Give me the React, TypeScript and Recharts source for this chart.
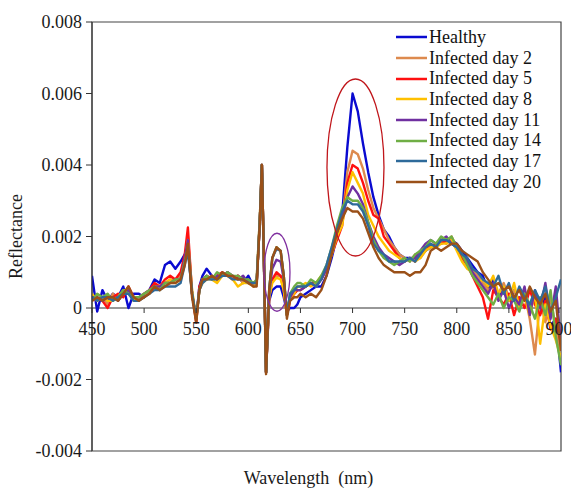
import React from 'react';
import {
    LineChart, Line, XAxis, YAxis, ReferenceLine, ReferenceArea,
    ReferenceDot, Label
} from 'recharts';

// wavelengths (nm), denser around the sharp features
const wavelengths = [
    450, 455, 460, 465, 470, 475, 480, 485, 490, 495, 500, 505, 510, 515, 520, 525, 530, 535,
    539, 542, 546, 550, 553, 556,
    560, 565, 570, 575, 580, 585, 590, 595, 600, 605,
    608, 611, 613, 615, 617, 620, 623, 627, 631, 634, 637, 640, 644, 647,
    650, 655, 660, 665, 670, 675, 680, 685, 690, 695, 700, 705, 710, 715, 720, 725, 730, 735, 740, 745,
    750, 755, 760, 765, 770, 775, 780, 785, 790, 795, 800, 805, 810, 815, 820, 825, 830, 835, 840, 845,
    850, 855, 860, 865, 870, 875, 880, 885, 890, 895, 900,
];

// reflectance in units of 0.001
const healthy = [
    0.9, -0.1, 0.5, 0.2, 0.4, 0.3, 0.6, 0.0, 0.4, 0.4, 0.3, 0.5, 0.8, 0.7, 1.2, 1.3, 1.1, 1.3,
    1.5, 1.7, 0.4, -0.3, 0.6, 0.9,
    1.1, 0.9, 0.8, 0.9, 1.0, 0.8, 0.9, 0.7, 0.9, 0.6,
    0.7, 2.4, 4.0, 1.2, -1.8, 0.2, 0.5, 0.6, 0.6, 0.3, -0.1, 0.0, 0.0, 0.1,
    0.3, 0.4, 0.5, 0.6, 0.6, 0.9, 1.4, 2.0, 2.6, 4.5, 6.0, 5.5, 4.6, 3.8, 3.1, 2.6, 2.2, 2.0, 1.7, 1.5,
    1.4, 1.4, 1.3, 1.5, 1.6, 1.7, 1.8, 1.8, 1.9, 1.9, 1.8, 1.6, 1.4, 1.2, 1.0, 0.9, 0.5, 0.8, 0.3, 0.6,
    0.2, 0.5, 0.2, 0.4, 0.0, 0.3, -0.1, 0.3, -0.5, -0.3, -1.8,
];
const day2 = [
    0.3, 0.2, 0.3, 0.1, 0.4, 0.2, 0.4, 0.6, 0.2, 0.3, 0.3, 0.5, 0.6, 0.5, 0.7, 0.8, 0.8, 0.9,
    1.3, 2.0, 0.5, -0.4, 0.5, 0.8,
    0.8, 0.9, 0.8, 0.9, 1.0, 0.8, 0.9, 0.7, 0.8, 0.6,
    0.8, 2.5, 4.0, 1.3, -1.8, 0.3, 0.8, 0.9, 0.9, 0.5, -0.2, 0.3, 0.4, 0.5,
    0.5, 0.6, 0.7, 0.6, 0.8, 1.1, 1.5, 2.0, 2.4, 3.8, 4.4, 4.3, 3.9, 3.3, 2.8, 2.5, 2.2, 1.9, 1.7, 1.5,
    1.4, 1.3, 1.5, 1.4, 1.6, 1.8, 1.7, 1.9, 1.8, 2.0, 1.7, 1.5, 1.3, 1.1, 0.9, 0.7, 0.5, 0.6, 0.4, 0.7,
    0.3, 0.5, 0.1, 0.4, -0.3, -1.3, 0.2, -0.4, 0.3, -0.6, -1.2,
];
const day5 = [
    0.2, 0.3, 0.2, 0.0, 0.3, 0.4, 0.3, 0.6, 0.3, 0.2, 0.4, 0.5, 0.7, 0.6, 0.8, 0.9, 0.8, 1.0,
    1.5, 2.25, 0.4, -0.4, 0.6, 0.8,
    0.9, 0.8, 0.9, 1.0, 0.9, 0.8, 0.9, 0.8, 0.7, 0.7,
    0.7, 2.4, 4.0, 1.3, -1.8, 0.3, 0.8, 1.0, 0.9, 0.5, -0.2, 0.2, 0.4, 0.5,
    0.5, 0.6, 0.7, 0.7, 0.8, 1.1, 1.5, 1.9, 2.3, 3.5, 4.0, 3.9, 3.5, 3.0, 2.6, 2.5, 2.0, 1.8, 1.6, 1.4,
    1.3, 1.4, 1.3, 1.5, 1.7, 1.7, 1.8, 1.8, 1.9, 1.8, 1.7, 1.4, 1.2, 0.9, 0.6, 0.3, -0.3, 0.5, 0.3, 0.1,
    0.4, -0.2, 0.3, 0.0, 0.5, 0.1, -0.2, 0.2, -0.6, -0.3, -1.0,
];
const day8 = [
    0.4, 0.2, 0.3, 0.2, 0.2, 0.3, 0.5, 0.5, 0.2, 0.3, 0.4, 0.4, 0.6, 0.6, 0.7, 0.8, 0.7, 0.8,
    1.3, 1.9, 0.5, -0.3, 0.5, 0.7,
    0.8, 0.8, 0.7, 0.9, 0.9, 0.8, 0.6, 0.7, 0.7, 0.6,
    0.7, 2.4, 4.0, 1.2, -1.8, 0.3, 0.7, 0.85, 0.8, 0.5, -0.2, 0.3, 0.4, 0.6,
    0.6, 0.7, 0.6, 0.7, 0.9, 1.1, 1.5, 2.0, 2.3, 3.3, 3.8, 3.5, 3.2, 2.6, 2.3, 2.0, 1.8, 1.6, 1.5, 1.4,
    1.3, 1.4, 1.3, 1.4, 1.6, 1.7, 1.7, 1.8, 1.8, 1.9, 1.6, 1.3, 1.1, 1.0, 0.7, 0.8, 0.6, 0.9, 0.4, 0.6,
    0.2, 0.7, 0.0, 0.3, -0.2, 0.4, -1.0, 0.1, -0.5, -0.9, -1.4,
];
const day11 = [
    0.3, 0.3, 0.2, 0.3, 0.3, 0.2, 0.4, 0.5, 0.3, 0.3, 0.4, 0.5, 0.6, 0.6, 0.7, 0.7, 0.8, 0.8,
    1.4, 1.9, 0.4, -0.3, 0.5, 0.8,
    0.9, 0.8, 0.9, 0.9, 1.0, 0.9, 0.8, 0.9, 0.7, 0.7,
    0.7, 2.4, 4.0, 1.3, -1.8, 0.4, 1.1, 1.35, 1.3, 0.8, -0.1, 0.3, 0.5, 0.5,
    0.5, 0.6, 0.7, 0.6, 0.8, 1.1, 1.6, 2.1, 2.5, 3.1, 3.4, 3.2, 2.9, 2.4, 2.0, 1.7, 1.5, 1.4, 1.3, 1.2,
    1.3, 1.4, 1.4, 1.6, 1.8, 1.9, 1.8, 1.9, 2.0, 1.8, 1.7, 1.5, 1.3, 1.0, 0.8, 0.6, 0.4, 0.7, 0.2, 0.5,
    0.0, 0.3, 0.1, 0.6, -0.2, 0.5, 0.0, 0.7, -0.3, 0.6, -1.0,
];
const day14 = [
    0.2, 0.4, 0.3, 0.4, 0.2, 0.3, 0.5, 0.4, 0.3, 0.3, 0.4, 0.5, 0.6, 0.5, 0.7, 0.7, 0.8, 0.8,
    1.3, 1.7, 0.4, -0.3, 0.5, 0.8,
    0.9, 0.8, 1.0, 0.9, 1.0, 0.9, 0.9, 0.8, 0.8, 0.7,
    0.8, 2.5, 4.0, 1.3, -1.8, 0.5, 1.4, 1.7, 1.6, 0.9, -0.2, 0.4, 0.6, 0.7,
    0.7, 0.6, 0.8, 0.7, 0.9, 1.2, 1.7, 2.3, 2.8, 3.1, 3.0, 3.0, 2.8, 2.4, 1.9, 1.6, 1.4, 1.3, 1.2, 1.3,
    1.4, 1.3, 1.5, 1.6, 1.7, 1.9, 1.8, 2.0, 1.9, 2.0, 1.7, 1.5, 1.2, 0.9, 0.7, 0.5, 0.3, 0.1, 0.4, 0.0,
    0.3, 0.2, -0.1, 0.4, 0.1, -0.3, 0.3, -0.2, 0.5, -0.8, -1.6,
];
const day17 = [
    0.3, 0.2, 0.3, 0.3, 0.2, 0.3, 0.4, 0.4, 0.2, 0.2, 0.3, 0.4, 0.5, 0.5, 0.6, 0.6, 0.6, 0.7,
    1.2, 1.6, 0.4, -0.3, 0.5, 0.7,
    0.8, 0.8, 0.8, 0.9, 0.9, 0.8, 0.8, 0.8, 0.7, 0.7,
    0.7, 2.4, 4.0, 1.3, -1.8, 0.5, 1.4, 1.65, 1.6, 0.9, -0.2, 0.4, 0.5, 0.6,
    0.6, 0.6, 0.7, 0.6, 0.8, 1.2, 1.7, 2.2, 2.7, 3.0, 2.9, 2.9, 2.7, 2.3, 1.8, 1.6, 1.5, 1.3, 1.3, 1.3,
    1.3, 1.4, 1.3, 1.5, 1.7, 1.8, 1.7, 1.9, 1.9, 1.8, 1.7, 1.5, 1.4, 1.1, 1.0, 0.8, 0.7, 0.6, 0.9, 0.4,
    0.7, 0.2, 0.6, 0.3, 0.1, 0.5, 0.2, 0.6, -0.1, 0.3, 0.8,
];
const day20 = [
    0.2, 0.3, 0.2, 0.3, 0.3, 0.2, 0.4, 0.6, 0.3, 0.2, 0.3, 0.4, 0.6, 0.5, 0.6, 0.7, 0.7, 0.8,
    1.2, 1.8, 0.3, -0.4, 0.5, 0.8,
    0.8, 0.9, 0.8, 1.0, 0.9, 0.9, 0.8, 0.8, 0.7, 0.6,
    0.6, 2.4, 4.0, 1.3, -1.85, 0.5, 1.4, 1.7, 1.6, 0.9, -0.3, 0.2, 0.3, 0.3,
    0.4, 0.3, 0.4, 0.3, 0.5, 0.9, 1.5, 2.1, 2.5, 2.8, 2.7, 2.7, 2.5, 2.1, 1.7, 1.4, 1.2, 1.1, 1.0, 1.0,
    1.0, 0.9, 1.0, 1.0, 1.2, 1.6, 1.7, 1.6, 1.7, 1.8, 1.8, 1.6, 1.5, 1.4, 1.3, 1.0, 0.8, 0.6, 0.7, 0.5,
    0.6, 0.3, 0.5, 0.2, 0.6, 0.3, 0.1, 0.4, -0.1, 0.2, -1.2,
];

const seriesNames = [
    'Healthy', 'Infected day 2', 'Infected day 5', 'Infected day 8',
    'Infected day 11', 'Infected day 14', 'Infected day 17', 'Infected day 20',
];
const seriesValues = [healthy, day2, day5, day8, day11, day14, day17, day20];
const seriesColors = [
    '#0a0ad0', '#dd8a4e', '#ff1010', '#ffc000',
    '#7030a0', '#6fae45', '#2e6a9a', '#9a5018',
];

const xTicks = [450, 500, 550, 600, 650, 700, 750, 800, 850, 900];
const yTicks = [-4, -2, 0, 2, 4, 6, 8];
const yTickLabels = ['-0.004', '-0.002', '0', '0.002', '0.004', '0.006', '0.008'];

const FONT = 'Times New Roman, Liberation Serif, DejaVu Serif, serif';
const PLOT_TOP = 22;
const PLOT_H = 429;
// y of the zero line inside the plot (domain -4..8)
const ZERO_Y = PLOT_TOP + PLOT_H * (8 / 12);

const data = wavelengths.map((w, i) => {
    const row: Record<string, number> = { w };
    seriesNames.forEach((n, k) => { row[n] = seriesValues[k][i]; });
    return row;
});

// x tick labels sit on the zero line, not at the bottom of the frame
const XTick = (props: any) => {
    const { x, payload } = props;
    return (
        <g>
            <line x1={x} x2={x} y1={ZERO_Y} y2={ZERO_Y + 5} stroke="#333" />
            <text x={x} y={ZERO_Y + 27} textAnchor="middle" fontSize={18} style={{ fontFamily: FONT }} fill="#1a1a1a">
                {payload.value}
            </text>
        </g>
    );
};

const Ellipse = (rx: number, ry: number, color: string) => (props: any) => (
    <ellipse cx={props.cx} cy={props.cy} rx={rx} ry={ry} fill="none" stroke={color} strokeWidth={1.3} />
);

const LegendBox = () => (
    <div style={{
        position: 'absolute', left: 396, top: 27, fontFamily: FONT, fontSize: 18,
        color: '#111', lineHeight: '20.7px', pointerEvents: 'none',
    }}>
        {seriesNames.map((n, i) => (
            <div key={n} style={{ display: 'flex', alignItems: 'center', height: 20.7 }}>
                <svg width={31} height={6} style={{ marginRight: 2 }}>
                    <line x1={0} x2={31} y1={3} y2={3} stroke={seriesColors[i]} strokeWidth={2.5} />
                </svg>
                <span style={{ whiteSpace: 'nowrap' }}>{n}</span>
            </div>
        ))}
    </div>
);

const App: React.FC = () => {
    return (
        <div style={{ position: 'absolute', left: 0, top: 0, width: 571, height: 488, background: '#fff', fontFamily: FONT }}>
            <LineChart
                width={571} height={488} data={data}
                margin={{ top: PLOT_TOP, right: 10, bottom: 0, left: 0 }}
                style={{ fontFamily: FONT }}
            >
                <XAxis
                    dataKey="w" type="number" domain={[450, 900]} ticks={xTicks}
                    axisLine={false} tickLine={false} tick={<XTick />} height={37}
                    allowDataOverflow
                >
                    <Label
                        value={'Wavelength\u00a0\u00a0(nm)'} position="insideBottom" offset={4} dx={-18}
                        style={{ fontFamily: FONT, fontSize: 18, fill: '#1a1a1a' }}
                    />
                </XAxis>
                <YAxis
                    type="number" domain={[-4, 8]} ticks={yTicks} width={92}
                    tickFormatter={(v: number) => yTickLabels[yTicks.indexOf(v)]}
                    tick={{ fontSize: 18, fill: '#1a1a1a', style: { fontFamily: FONT } }}
                    tickSize={6} tickMargin={4}
                    stroke="#333" allowDataOverflow
                >
                    <Label
                        value="Reflectance" angle={-90} position="insideLeft" offset={16}
                        style={{ fontFamily: FONT, fontSize: 18, fill: '#1a1a1a', textAnchor: 'middle' }}
                    />
                </YAxis>
                <ReferenceArea x1={450} x2={900} y1={-4} y2={8} fill="none" stroke="#444" strokeWidth={1.2} />
                <ReferenceLine y={0} stroke="#333" strokeWidth={1.2} />
                {seriesNames.map((n, i) => (
                    <Line
                        key={n} dataKey={n} name={n} type="linear" stroke={seriesColors[i]}
                        strokeWidth={2.4} dot={false} isAnimationActive={false}
                        strokeLinejoin="round"
                    />
                ))}
                <ReferenceDot x={702.8} y={3.93} shape={Ellipse(28.5, 88.5, '#c0151a')} />
                <ReferenceDot x={627.5} y={1.0} shape={Ellipse(13, 39, '#8030a0')} />
            </LineChart>
            <LegendBox />
        </div>
    );
};

export default App;
